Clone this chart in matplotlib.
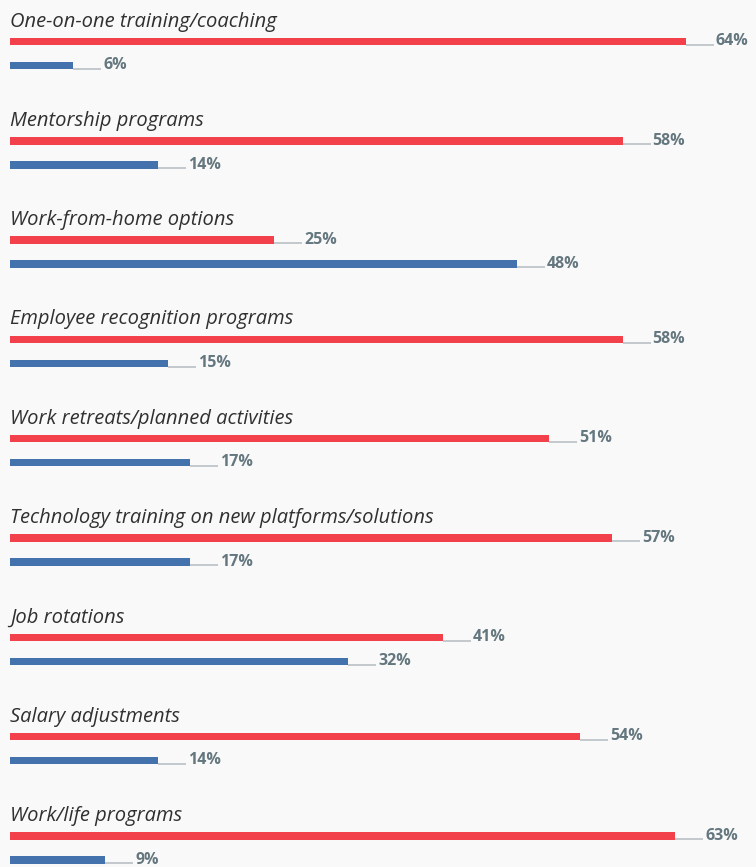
import numpy as np
import matplotlib.pyplot as plt

categories = [
    "One-on-one training/coaching",
    "Mentorship programs",
    "Work-from-home options",
    "Employee recognition programs",
    "Work retreats/planned activities",
    "Technology training on new platforms/solutions",
    "Job rotations",
    "Salary adjustments",
    "Work/life programs",
]
red_values = [64, 58, 25, 58, 51, 57, 41, 54, 63]
blue_values = [6, 14, 48, 15, 17, 17, 32, 14, 9]

RED = "#f2414a"
BLUE = "#4372ad"
LEADER = "#b9c0c4"
VALUE_COLOR = "#64777f"
BG = "#f9f9f9"

px_per_pct = 10.5625
fig = plt.figure(figsize=(7.56, 8.67), dpi=100, facecolor=BG)
ax = fig.add_axes([0, 0, 1, 1], facecolor=BG)
ax.set_xlim(-10 / px_per_pct, (756 - 10) / px_per_pct)
ax.set_ylim(867, 0)
ax.axis("off")

step = 99.3
red_y = 41.5 + step * np.arange(len(categories))
blue_y = red_y + 24
bar_h = 7.5
lead = 28 / px_per_pct
gap = 30 / px_per_pct

ax.barh(red_y, red_values, height=bar_h, color=RED, left=0)
ax.barh(blue_y, blue_values, height=bar_h, color=BLUE, left=0)

for ys, vals in ((red_y, red_values), (blue_y, blue_values)):
    for y, v in zip(ys, vals):
        bottom = y + bar_h / 2 - 0.5
        ax.plot([v, v + lead], [bottom, bottom], color=LEADER, lw=1.2,
                solid_capstyle="butt")
        ax.text(v + gap, bottom + 0.5, f"{v}%", color=VALUE_COLOR,
                fontsize=11.5, fontweight="bold", family="Open Sans",
                ha="left", va="baseline")

for y, name in zip(red_y, categories):
    ax.text(0, y - 15, name, color="#303030", fontsize=14.5,
            fontstyle="italic", family="Open Sans", ha="left", va="baseline")

fig.savefig("out.png", dpi=100, facecolor=BG)
